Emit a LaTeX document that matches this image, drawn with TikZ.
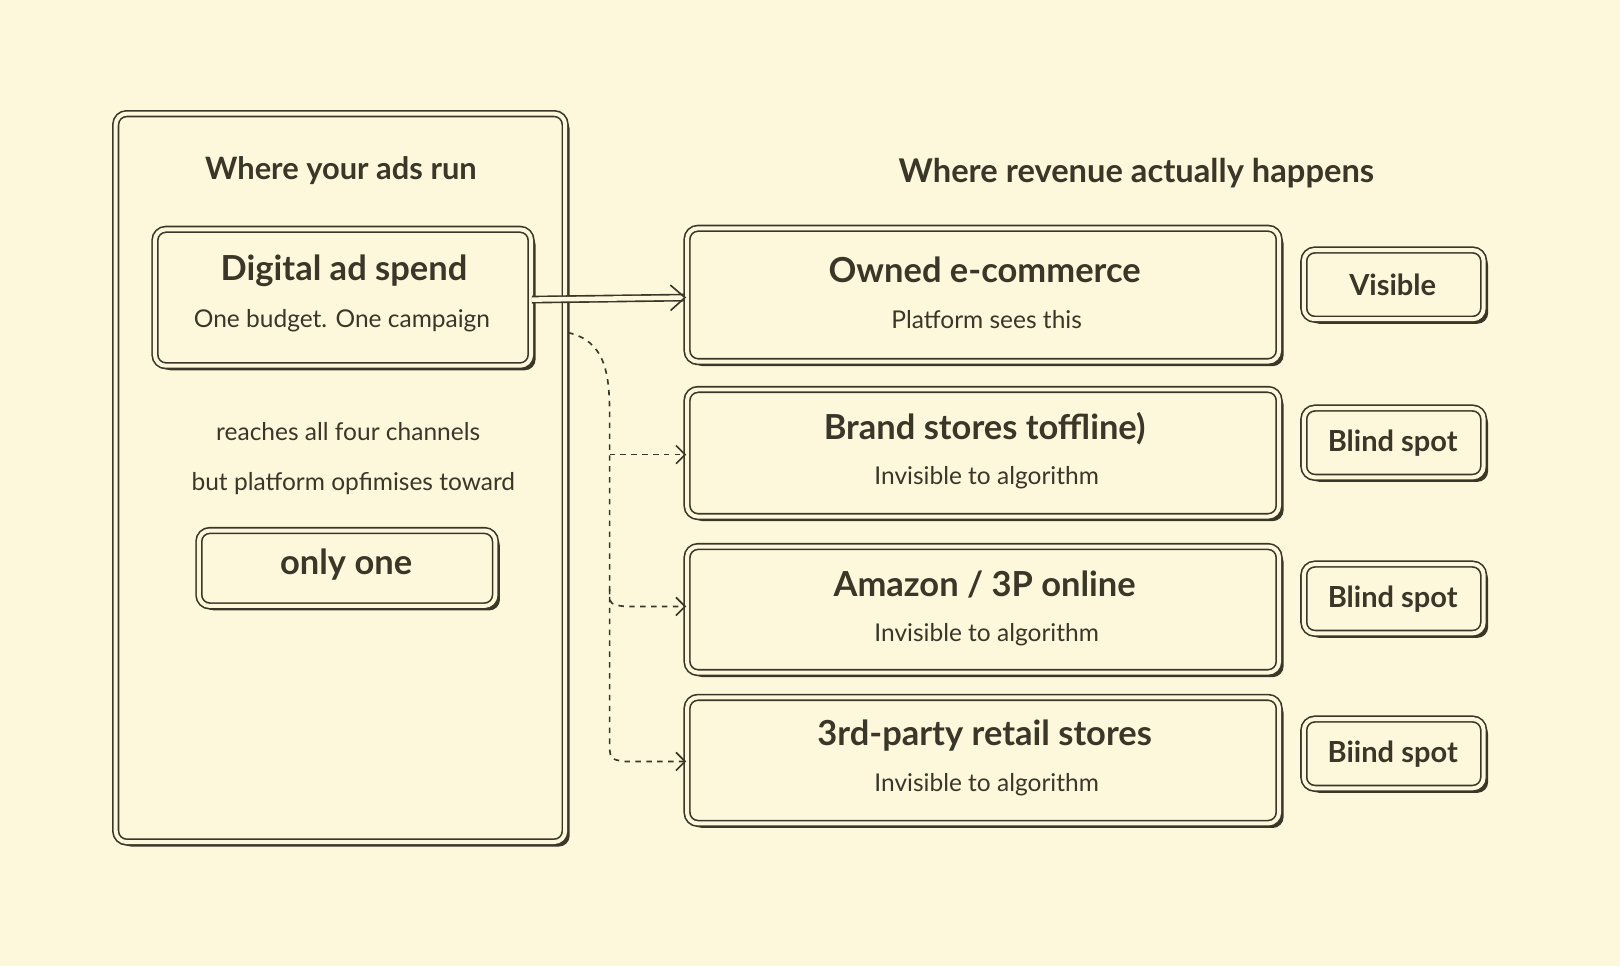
\documentclass[tikz,border=0pt]{standalone}
\usepackage{fontspec}
\setmainfont{Lato}
\usetikzlibrary{shadows,arrows.meta,calc}
\definecolor{bg}{HTML}{FDF8DC}
\definecolor{ln}{HTML}{3A3628}
\begin{document}
\begin{tikzpicture}[x=0.02cm,y=-0.02cm,
 box/.style={draw=ln,fill=bg,rounded corners=6pt,double=bg,double distance=2.2pt,line width=0.9pt,
   drop shadow={shadow xshift=2.5pt,shadow yshift=-2.5pt,fill=ln,opacity=1},inner sep=0pt},
 t/.style={text=ln,font=\fontsize{19}{22}\selectfont\bfseries},
 s/.style={text=ln,font=\fontsize{13.5}{16}\selectfont},
 tg/.style={text=ln,font=\fontsize{16}{19}\selectfont\bfseries},
 dsh/.style={draw=ln,line width=0.9pt,dashed,-{Straight Barb[length=5pt]}}]
\fill[bg] (0,0) rectangle (1568,935);
\useasboundingbox (0,0) rectangle (1568,935);
\node[box,minimum width=435*0.02cm,minimum height=705*0.02cm] (panel) at (329.5,462.5) {};
\node[t,font=\fontsize{17}{20}\selectfont\bfseries] (pt) at (330,165) {Where your ads run};
\node[box,minimum width=364*0.02cm,minimum height=132*0.02cm] (dig) at (332,288) {};
\node[t] (digt) at (333,262) {Digital ad spend};
\node[s] (digs) at (331,310) {One budget. One campaign};
\node[s] (r1) at (337,418) {reaches all four channels};
\node[s] (r2) at (342,468) {but platform opfimises toward};
\node[box,minimum width=287*0.02cm,minimum height=73*0.02cm] (only) at (336,550) {};
\node[t] at (335,546) {only one};
\node[t,font=\fontsize{18}{21}\selectfont\bfseries] (rt) at (1100,168) {Where revenue actually happens};
\foreach \n/\ya/\yb/\ti/\su/\tga/\tgb/\tag in {
 own/221/350/{Owned e-commerce}/{Platform sees this}/242/309/Visible,
 brand/377/500/{Brand stores toffline)}/{Invisible to algorithm}/395/462/{Blind spot},
 amz/529/651/{Amazon / 3P online}/{Invisible to algorithm}/546/613/{Blind spot},
 ret/675/797/{3rd-party retail stores}/{Invisible to algorithm}/696/763/{Biind spot}}{
 \node[box,minimum width=573*0.02cm,minimum height={(\yb-\ya)*0.02cm}] (\n) at (951.5,{(\ya+\yb)/2}) {};
 \node[t] (\n t) at (953,{(\ya+\yb)/2-24}) {\ti};
 \node[s] (\n s) at (955,{(\ya+\yb)/2+24}) {\su};
 \node[box,minimum width=174*0.02cm,minimum height={(\tgb-\tga)*0.02cm}] (\n g) at (1349,{(\tga+\tgb)/2}) {};
 \node[tg] at (1348,{(\tga+\tgb)/2}) {\tag};
}
\draw[draw=ln,double=bg,double distance=2.5pt,line width=0.9pt,-{Straight Barb[length=8pt,width=14pt]}] (dig.east|-0,290) -- (own.west|-0,288);
\coordinate (c0) at (550,322);
\coordinate (c1) at (590,400);
\draw[draw=ln,line width=0.9pt,dashed] (c0) .. controls (585,330) and (590,360) .. (c1) -- (590,715);
\draw[dsh] (590,440) -- (brand.west|-0,440);
\draw[dsh] (590,570) .. controls (590,585) .. (605,587) -- (amz.west|-0,587);
\draw[dsh] (590,715) .. controls (590,735) .. (605,737) -- (ret.west|-0,737);
\end{tikzpicture}
\end{document}
